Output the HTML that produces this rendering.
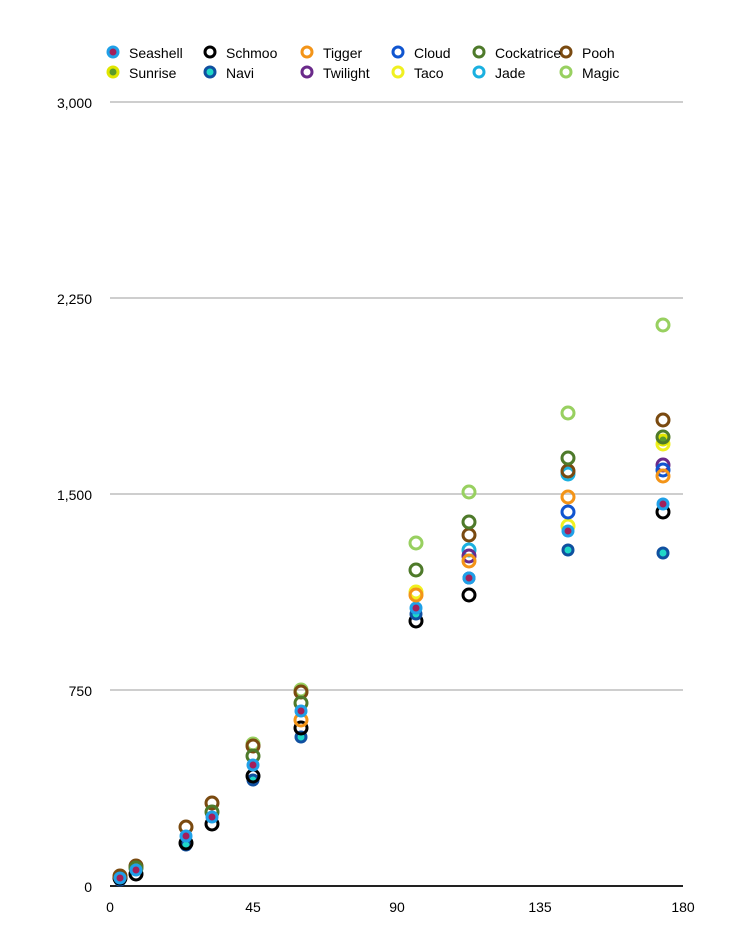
<!DOCTYPE html>
<html><head><meta charset="utf-8"><style>
html,body{margin:0;padding:0;background:#fff;}
svg{display:block;font-family:"Liberation Sans",sans-serif;}
</style></head><body>
<svg width="750" height="950" viewBox="0 0 750 950">
<g stroke="#bdbdbd" stroke-width="1.5">
<line x1="110" y1="102" x2="683" y2="102"/>
<line x1="110" y1="298" x2="683" y2="298"/>
<line x1="110" y1="494" x2="683" y2="494"/>
<line x1="110" y1="690" x2="683" y2="690"/>
</g>
<line x1="110" y1="886" x2="683" y2="886" stroke="#222" stroke-width="2"/>
<g font-size="14" fill="#000" text-anchor="end">
<text x="92" y="108">3,000</text><text x="92" y="304">2,250</text><text x="92" y="500">1,500</text><text x="92" y="696">750</text><text x="92" y="892">0</text>
</g>
<g font-size="14" fill="#000" text-anchor="middle">
<text x="110" y="912">0</text><text x="253" y="912">45</text><text x="397" y="912">90</text><text x="540" y="912">135</text><text x="683" y="912">180</text>
</g>
<defs>
<g id="sea"><circle r="6.5" fill="#1fa0e8" stroke="none"/><circle r="3.5" fill="#a3205a" stroke="none"/></g>
<g id="sun"><circle r="6.5" fill="#e0e600" stroke="none"/><circle r="3.5" fill="#5a9a2a" stroke="none"/></g>
<g id="navi"><circle r="5" fill="#20d8c8" stroke="#1050a0" stroke-width="3"/></g>
</defs>
<g fill="none" stroke-width="3">
<use href="#sea" x="113" y="52"/><use href="#sun" x="113" y="72"/>
<circle cx="210" cy="52" r="5" stroke="#000"/><use href="#navi" x="210" y="72"/>
<circle cx="307" cy="52" r="5" stroke="#f39418"/><circle cx="307" cy="72" r="5" stroke="#6a2a8a"/>
<circle cx="398" cy="52" r="5" stroke="#1055d0"/><circle cx="398" cy="72" r="5" stroke="#f0f020"/>
<circle cx="479" cy="52" r="5" stroke="#4e7a2a"/><circle cx="479" cy="72" r="5" stroke="#1ab0e0"/>
<circle cx="566" cy="52" r="5" stroke="#7a4a10"/><circle cx="566" cy="72" r="5" stroke="#98d060"/>
</g>
<g font-size="14" fill="#000">
<text x="129" y="58">Seashell</text><text x="129" y="78">Sunrise</text>
<text x="226" y="58">Schmoo</text><text x="226" y="78">Navi</text>
<text x="323" y="58">Tigger</text><text x="323" y="78">Twilight</text>
<text x="414" y="58">Cloud</text><text x="414" y="78">Taco</text>
<text x="495" y="58">Cockatrice</text><text x="495" y="78">Jade</text>
<text x="582" y="58">Pooh</text><text x="582" y="78">Magic</text>
</g>
<g fill="none" stroke-width="3" stroke="#000">
<use href="#navi" x="120" y="880"/><circle cx="120" cy="878" r="6"/><circle cx="120" cy="876" r="6" stroke="#7a4a10"/><use href="#sea" x="120" y="878"/>
<circle cx="136" cy="874" r="6"/><circle cx="136" cy="866" r="6" stroke="#7a4a10"/><circle cx="136" cy="868" r="6" stroke="#4e7a2a"/><use href="#sea" x="136" y="870"/>
<use href="#navi" x="186" y="845"/><circle cx="186" cy="843" r="6"/><circle cx="186" cy="827" r="6" stroke="#7a4a10"/><use href="#sea" x="186" y="836"/>
<circle cx="212" cy="824" r="6"/><circle cx="212" cy="803" r="6" stroke="#7a4a10"/><circle cx="212" cy="812" r="6" stroke="#4e7a2a"/><use href="#sea" x="212" y="817"/>
<use href="#navi" x="253" y="780"/><circle cx="253" cy="776" r="6"/><circle cx="253" cy="744" r="6" stroke="#98d060"/><circle cx="253" cy="746" r="6" stroke="#7a4a10"/><circle cx="253" cy="756" r="6" stroke="#4e7a2a"/><use href="#sea" x="253" y="765"/>
<use href="#navi" x="301" y="737"/><circle cx="301" cy="728" r="6"/><circle cx="301" cy="720" r="6" stroke="#f39418"/><circle cx="301" cy="690" r="6" stroke="#98d060"/><circle cx="301" cy="692" r="6" stroke="#7a4a10"/><circle cx="301" cy="703" r="6" stroke="#4e7a2a"/><use href="#sea" x="301" y="711"/>
<circle cx="416" cy="621" r="6"/><use href="#navi" x="416" y="614"/><use href="#sea" x="416" y="608"/><circle cx="416" cy="592" r="6" stroke="#f0f020"/><circle cx="416" cy="595" r="6" stroke="#f39418"/><circle cx="416" cy="570" r="6" stroke="#4e7a2a"/><circle cx="416" cy="543" r="6" stroke="#98d060"/>
<circle cx="469" cy="595" r="6"/><use href="#navi" x="469" y="578"/><circle cx="469" cy="550" r="6" stroke="#1ab0e0"/><circle cx="469" cy="556" r="6" stroke="#6a2a8a"/><circle cx="469" cy="561" r="6" stroke="#f39418"/><use href="#sea" x="469" y="578"/><circle cx="469" cy="535" r="6" stroke="#7a4a10"/><circle cx="469" cy="522" r="6" stroke="#4e7a2a"/><circle cx="469" cy="492" r="6" stroke="#98d060"/>
<use href="#navi" x="568" y="550"/><circle cx="568" cy="526" r="6" stroke="#f0f020"/><use href="#sea" x="568" y="531"/><circle cx="568" cy="512" r="6" stroke="#1055d0"/><circle cx="568" cy="497" r="6" stroke="#f39418"/><circle cx="568" cy="474" r="6" stroke="#1ab0e0"/><circle cx="568" cy="471" r="6" stroke="#7a4a10"/><circle cx="568" cy="458" r="6" stroke="#4e7a2a"/><circle cx="568" cy="413" r="6" stroke="#98d060"/>
<use href="#navi" x="663" y="553"/><circle cx="663" cy="512" r="6"/><use href="#sea" x="663" y="504"/><circle cx="663" cy="465" r="6" stroke="#6a2a8a"/><circle cx="663" cy="470" r="6" stroke="#1055d0"/><circle cx="663" cy="476" r="6" stroke="#f39418"/><circle cx="663" cy="444" r="6" stroke="#f0f020"/><use href="#sun" x="663" y="440"/><circle cx="663" cy="437" r="6" stroke="#4e7a2a"/><circle cx="663" cy="420" r="6" stroke="#7a4a10"/><circle cx="663" cy="325" r="6" stroke="#98d060"/>
</g>
</svg>
</body></html>
